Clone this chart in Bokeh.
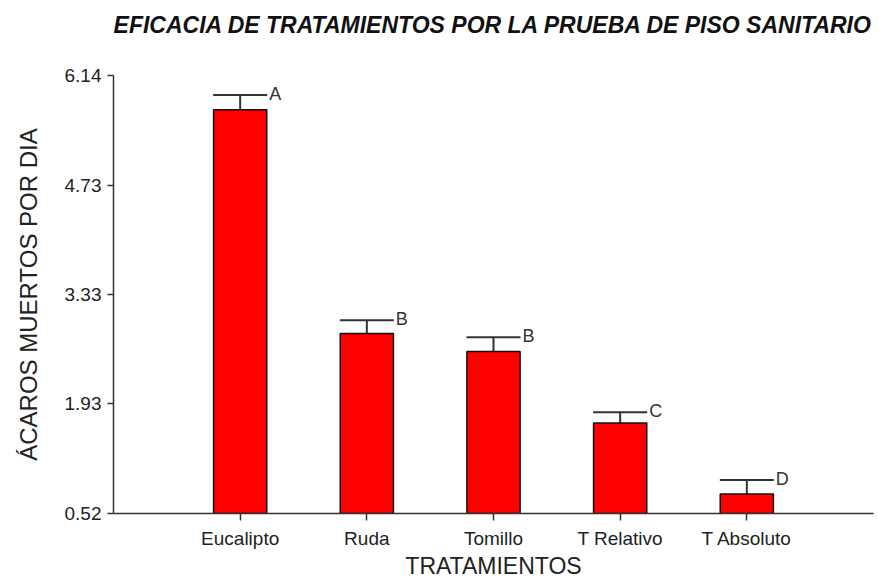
from bokeh.plotting import figure
from bokeh.models import FactorRange, Range1d, FixedTicker, PrintfTickFormatter, ColumnDataSource, Whisker, TeeHead, Title
from bokeh.core.properties import value
from bokeh.embed import file_html
from bokeh.resources import INLINE

# ---- data ----
categories = ["Eucalipto", "Ruda", "Tomillo", "T Relativo", "T Absoluto"]
means = [5.70, 2.83, 2.60, 1.68, 0.77]
errors = [0.19, 0.17, 0.18, 0.14, 0.18]
letters = ["A", "B", "B", "C", "D"]
y_ticks = [0.52, 1.93, 3.33, 4.73, 6.14]
title_text = "EFICACIA DE TRATAMIENTOS POR LA PRUEBA DE PISO SANITARIO"

upper = [m + e for m, e in zip(means, errors)]
base = y_ticks[0]

src = ColumnDataSource(dict(cat=categories, mean=means, upper=upper, letter=letters,
                            bottom=[base] * len(categories)))

FONT = "Liberation Sans"

p = figure(x_range=FactorRange(*categories, range_padding=0.2, range_padding_units="percent"),
           y_range=Range1d(y_ticks[0], y_ticks[-1]),
           width=875, height=581, output_backend="svg", toolbar_location=None,
           min_border_left=113, min_border_right=2, min_border_top=75, min_border_bottom=68,
           title=None)

p.outline_line_color = None
p.grid.visible = False
p.background_fill_color = "white"
p.border_fill_color = "white"

# spacing panel between plot area and title, then the title itself (outermost)
p.add_layout(Title(text=" ", text_font_size="1px", standoff=22), "above")
p.add_layout(Title(text=title_text, text_font=FONT, text_font_style="bold italic",
                   text_font_size="23px", text_color="#111111", align="center",
                   vertical_align="top", standoff=22), "above")

BAR_W = 0.42
p.vbar(x="cat", top="mean", bottom="bottom", width=BAR_W, source=src,
       fill_color="#FF0000", line_color="#111111", line_width=1.5)

whisk = Whisker(source=src, base="cat", lower="mean", upper="upper",
                line_color="#333333", line_width=2,
                upper_head=TeeHead(size=54, line_color="#333333", line_width=2),
                lower_head=None)
p.add_layout(whisk)

p.text(x="cat", y="upper", text="letter", source=src, x_offset=29, y_offset=-1,
       text_font=value(FONT), text_font_size="18px", text_color="#333333",
       text_baseline="middle", text_align="left")

# axes
for ax in (p.xaxis[0], p.yaxis[0]):
    ax.axis_line_color = "#333333"
    ax.axis_line_width = 1.5
    ax.major_tick_line_color = "#333333"
    ax.major_tick_line_width = 1.5
    ax.minor_tick_line_color = None
    ax.major_tick_in = 0
    ax.major_label_text_font = FONT
    ax.major_label_text_font_size = "19px"
    ax.major_label_text_color = "#222222"
    ax.axis_label_text_font = FONT
    ax.axis_label_text_font_style = "normal"
    ax.axis_label_text_color = "#222222"

p.yaxis.ticker = FixedTicker(ticks=y_ticks)
p.yaxis.formatter = PrintfTickFormatter(format="%.2f")
p.yaxis.major_tick_out = 6
p.yaxis.major_label_standoff = 6
p.yaxis.axis_label = "ÁCAROS MUERTOS POR DIA"
p.yaxis.axis_label_text_font_size = "24px"
p.yaxis.axis_label_standoff = 20

p.xaxis.major_tick_out = 7
p.xaxis.major_label_standoff = 7
p.xaxis.axis_label = "TRATAMIENTOS"
p.xaxis.axis_label_text_font_size = "23px"
p.xaxis.axis_label_standoff = 1

open("out.html", "w").write(file_html(p, INLINE))
